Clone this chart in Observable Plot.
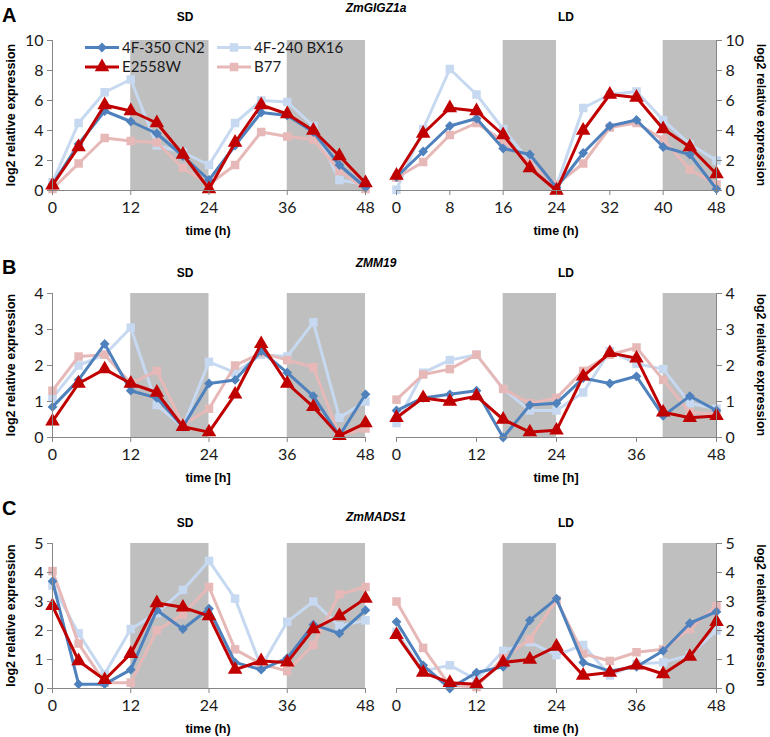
<!DOCTYPE html>
<html><head><meta charset="utf-8">
<script src="https://cdn.jsdelivr.net/npm/d3@7"></script>
<script src="https://cdn.jsdelivr.net/npm/@observablehq/plot@0.6"></script>
<style>
body{margin:0;background:#fff;}
#root{position:relative;width:770px;height:737px;overflow:hidden;background:#fff;}
.p{position:absolute;}
#overlay{position:absolute;left:0;top:0;pointer-events:none;}
</style></head><body><div id="root"></div>
<script>
// ---- data ----
const times = [0,4,8,12,16,20,24,28,32,36,40,44,48];
const seriesNames = ["4F-350 CN2","4F-240 BX16","E2558W","B77"];
const seriesColors = ["#4f81bd","#c6d9f1","#c00000","#e6b9b8"];
const seriesSymbols = ["diamond2","square","triangle","square"];
const seriesRadius = [4.4,4.8,5.4,4.8];
const drawOrder = [1,3,0,2];
const sdNights = [[12,24],[36,48]];
const ldNights = [[16,24],[40,48]];
const genes = ["ZmGIGZ1a","ZMM19","ZmMADS1"];
const letters = ["A","B","C"];
const xLabels = ["time (h)","time [h]","time (h)"];
const yLabel = "log2 relative expression";
const xTicksDefault = [0,12,24,36,48];
const xTicksALD = [0,8,16,24,32,40,48];
const yTicksA = [0,2,4,6,8,10];
const yTicksB = [0,1,2,3,4];
const yTicksC = [0,1,2,3,4,5];

// ZmGIGZ1a SD
const A_SD_CN2    = [0.4,3.1,5.3,4.6,3.8,2.3,0.7,3.0,5.2,5.0,3.9,1.7,0.2];
const A_SD_BX16   = [0.55,4.5,6.55,7.4,3.0,2.55,1.7,4.5,6.0,5.9,4.3,0.7,0.4];
const A_SD_E2558W = [0.35,2.9,5.7,5.3,4.5,2.4,0.1,3.2,5.7,5.1,4.0,2.3,0.5];
const A_SD_B77    = [0.1,1.8,3.5,3.3,3.2,1.5,0.4,1.7,3.9,3.6,3.4,1.3,0.1];
// ZmGIGZ1a LD
const A_LD_CN2    = [0.9,2.6,4.3,4.8,2.8,2.4,0.2,2.5,4.3,4.7,2.9,2.4,0.1];
const A_LD_BX16   = [0.05,4.1,8.1,6.4,4.1,1.9,0.3,5.5,6.4,6.6,4.7,3.1,2.0];
const A_LD_E2558W = [1.0,3.8,5.5,5.3,3.7,1.5,0.0,4.0,6.4,6.2,4.1,2.9,1.1];
const A_LD_B77    = [0.85,1.9,3.7,4.5,3.3,1.8,0.4,1.8,4.2,4.5,3.4,1.4,0.4];
// ZMM19 SD
const B_SD_CN2    = [0.85,1.6,2.6,1.3,1.1,0.3,1.5,1.6,2.4,1.8,1.15,0.05,1.2];
const B_SD_BX16   = [1.1,2.0,2.3,3.05,0.9,0.3,2.1,1.8,2.3,2.25,3.2,0.55,1.0];
const B_SD_E2558W = [0.45,1.5,1.9,1.5,1.25,0.3,0.15,1.2,2.6,1.5,0.85,0.05,0.4];
const B_SD_B77    = [1.3,2.25,2.3,1.5,1.85,0.35,0.8,2.0,2.35,2.15,1.95,0.05,0.25];
// ZMM19 LD
const B_LD_CN2    = [0.75,1.1,1.2,1.3,0.0,0.9,0.95,1.65,1.5,1.7,0.6,1.15,0.75];
const B_LD_BX16   = [0.4,1.8,2.15,2.3,1.35,0.75,0.75,1.25,2.4,2.05,1.9,0.95,0.8];
const B_LD_E2558W = [0.55,1.1,1.0,1.15,0.5,0.15,0.2,1.7,2.35,2.2,0.7,0.55,0.6];
const B_LD_B77    = [1.05,1.75,1.9,2.3,1.35,0.95,1.1,1.85,2.3,2.5,1.6,0.7,0.65];
// ZmMADS1 SD
const C_SD_CN2    = [3.7,0.15,0.15,0.65,2.7,2.05,2.75,0.9,0.65,1.05,2.2,1.9,2.7];
const C_SD_BX16   = [3.55,1.9,0.5,2.05,2.6,3.4,4.4,3.1,0.75,2.3,3.0,2.15,2.35];
const C_SD_E2558W = [2.85,0.95,0.3,1.2,2.95,2.8,2.5,0.65,0.95,0.9,2.05,2.5,3.1];
const C_SD_B77    = [4.05,1.55,0.2,0.2,2.0,2.55,3.5,1.35,0.85,0.6,1.5,3.25,3.5];
// ZmMADS1 LD
const C_LD_CN2    = [2.3,0.8,0.0,0.55,0.75,2.35,3.1,0.9,0.6,0.75,1.3,2.25,2.65];
const C_LD_BX16   = [1.95,0.6,0.8,0.3,1.3,1.6,1.15,1.5,0.45,0.85,0.9,1.15,2.0];
const C_LD_E2558W = [1.85,0.55,0.2,0.15,0.9,1.0,1.45,0.45,0.55,0.8,0.5,1.1,2.3];
const C_LD_B77    = [3.0,1.4,0.1,0.05,1.05,1.7,3.05,1.2,0.95,1.25,1.35,2.05,2.85];

// ---- layout ----
const root = document.getElementById("root");
const axisGray = "#868686";
const tickFont = "Lato, 'Open Sans', sans-serif";

function panel(cfg) {
  const rows = [];
  cfg.series.forEach((vals, i) => vals.forEach((v, j) => rows.push({t: times[j], v, s: i})));
  const marks = [
    Plot.rect(cfg.nights, {x1: d => d[0], x2: d => d[1], y1: 0, y2: cfg.ymax, fill: "#bfbfbf"})
  ];
  for (const i of drawOrder) {
    const d = rows.filter(r => r.s === i);
    marks.push(Plot.line(d, {x: "t", y: "v", stroke: seriesColors[i], strokeWidth: 3, strokeLinejoin: "miter"}));
    marks.push(Plot.dot(d, {x: "t", y: "v", fill: seriesColors[i], stroke: "none", symbol: seriesSymbols[i], r: seriesRadius[i]}));
  }
  marks.push(Plot.ruleY([0], {stroke: axisGray}));
  marks.push(Plot.ruleX([cfg.side === "left" ? 0 : 48], {stroke: axisGray}));
  marks.push(Plot.axisX(cfg.xticks, {tickSize: 5, tickPadding: 6, stroke: axisGray, fill: "#1a1a1a", fontSize: 16, label: null, tickFormat: d => String(d)}));
  marks.push(Plot.axisY(cfg.yticks, {anchor: cfg.side, tickSize: 5, tickPadding: 4, stroke: axisGray, fill: "#1a1a1a", fontSize: 16, label: null, tickFormat: d => String(d)}));
  const svg = Plot.plot({
    width: cfg.width, height: cfg.height,
    marginLeft: cfg.mL, marginRight: cfg.mR, marginTop: cfg.mT, marginBottom: cfg.mB,
    x: {domain: [0, 48]},
    y: {domain: [0, cfg.ymax]},
    style: {fontFamily: tickFont, background: "transparent", overflow: "visible"},
    marks
  });
  svg.classList.add("p");
  svg.style.left = cfg.left + "px";
  svg.style.top = cfg.top + "px";
  root.appendChild(svg);
}

const rowsCfg = [
  {top: 30, mT: 10, inner: 150, ymax: 10, yticks: yTicksA,
   sd: [A_SD_CN2, A_SD_BX16, A_SD_E2558W, A_SD_B77], ld: [A_LD_CN2, A_LD_BX16, A_LD_E2558W, A_LD_B77], ldx: xTicksALD},
  {top: 283, mT: 10, inner: 144, ymax: 4, yticks: yTicksB,
   sd: [B_SD_CN2, B_SD_BX16, B_SD_E2558W, B_SD_B77], ld: [B_LD_CN2, B_LD_BX16, B_LD_E2558W, B_LD_B77], ldx: xTicksDefault},
  {top: 533, mT: 10, inner: 145, ymax: 5, yticks: yTicksC,
   sd: [C_SD_CN2, C_SD_BX16, C_SD_E2558W, C_SD_B77], ld: [C_LD_CN2, C_LD_BX16, C_LD_E2558W, C_LD_B77], ldx: xTicksDefault}
];

rowsCfg.forEach(r => {
  const mB = 46;
  const height = r.mT + r.inner + mB;
  panel({left: 0, top: r.top, width: 372, height, mL: 52, mR: 7, mT: r.mT, mB, ymax: r.ymax, yticks: r.yticks,
         xticks: xTicksDefault, nights: sdNights, series: r.sd, side: "left"});
  panel({left: 370, top: r.top, width: 400, height, mL: 26, mR: 54, mT: r.mT, mB, ymax: r.ymax, yticks: r.yticks,
         xticks: r.ldx, nights: ldNights, series: r.ld, side: "right"});
});

// ---- overlay texts & legend ----
const ov = d3.select(root).append("svg").attr("id", "overlay").attr("width", 770).attr("height", 737);
const bold = "'Liberation Sans', Arial, sans-serif";
const letterY = [15, 267, 508];
const geneY = [8, 263, 517];
const sdldY = [17, 273, 523];
rowsCfg.forEach((r, k) => {
  const pTop = r.top + r.mT, pBot = pTop + r.inner, pMid = (pTop + pBot) / 2;
  ov.append("text").attr("x", 2).attr("y", letterY[k]).attr("dy", "0.36em")
    .attr("font-family", bold).attr("font-weight", "bold").attr("font-size", 20).text(letters[k]);
  ov.append("text").attr("x", 376).attr("y", geneY[k]).attr("dy", "0.36em").attr("text-anchor", "middle")
    .attr("font-family", bold).attr("font-weight", "bold").attr("font-style", "italic").attr("font-size", 12).text(genes[k]);
  ov.append("text").attr("x", 185).attr("y", sdldY[k]).attr("dy", "0.36em").attr("text-anchor", "middle")
    .attr("font-family", bold).attr("font-weight", "bold").attr("font-size", 12).text("SD");
  ov.append("text").attr("x", 566).attr("y", sdldY[k]).attr("dy", "0.36em").attr("text-anchor", "middle")
    .attr("font-family", bold).attr("font-weight", "bold").attr("font-size", 12).text("LD");
  ov.append("text").attr("x", 208).attr("y", pBot + 40).attr("dy", "0.36em").attr("text-anchor", "middle")
    .attr("font-family", bold).attr("font-weight", "bold").attr("font-size", 12.5).text(xLabels[k]);
  ov.append("text").attr("x", 556).attr("y", pBot + 40).attr("dy", "0.36em").attr("text-anchor", "middle")
    .attr("font-family", bold).attr("font-weight", "bold").attr("font-size", 12.5).text(xLabels[k]);
  ov.append("text").attr("transform", `translate(10,${pMid}) rotate(-90)`).attr("dy", "0.36em").attr("text-anchor", "middle")
    .attr("font-family", bold).attr("font-weight", "bold").attr("font-size", 12.5).text(yLabel);
  ov.append("text").attr("transform", `translate(761,${pMid}) rotate(90)`).attr("dy", "0.36em").attr("text-anchor", "middle")
    .attr("font-family", bold).attr("font-weight", "bold").attr("font-size", 12.5).text(yLabel);
});

// legend (panel A, SD)
const legX = [85, 217], legY = [47.5, 67];
const symMap = {diamond2: d3.symbolDiamond2, square: d3.symbolSquare, triangle: d3.symbolTriangle};
seriesNames.forEach((name, i) => {
  const cx = legX[i % 2], cy = legY[Math.floor(i / 2)];
  const g = ov.append("g");
  g.append("line").attr("x1", cx).attr("x2", cx + 34).attr("y1", cy).attr("y2", cy)
    .attr("stroke", seriesColors[i]).attr("stroke-width", 3);
  g.append("path").attr("transform", `translate(${cx + 17},${cy})`)
    .attr("d", d3.symbol(symMap[seriesSymbols[i]], Math.PI * seriesRadius[i] * seriesRadius[i])())
    .attr("fill", seriesColors[i]);
  g.append("text").attr("x", cx + 37).attr("y", cy).attr("dy", "0.36em")
    .attr("font-family", tickFont).attr("font-size", 15).attr("fill", "#1a1a1a").text(name);
});
</script></body></html>
